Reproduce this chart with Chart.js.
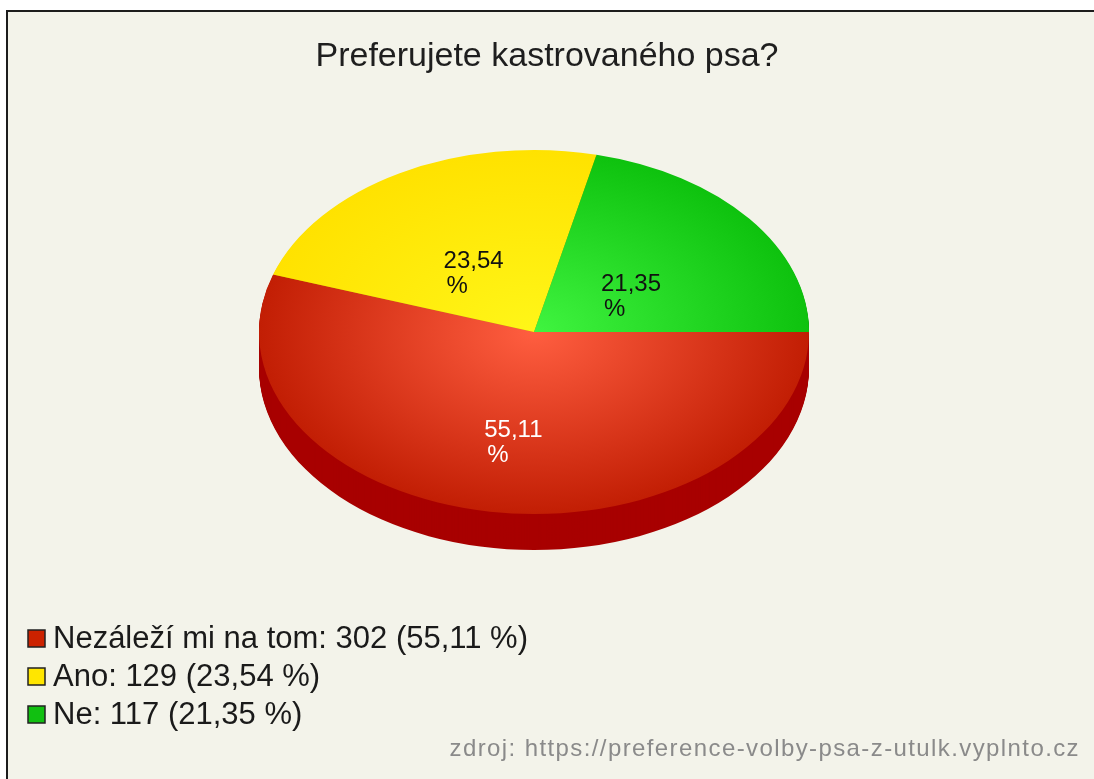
<!DOCTYPE html>
<html><head><meta charset="utf-8">
<script src="https://cdn.jsdelivr.net/npm/chart.js@4.4.1/dist/chart.umd.min.js"></script>
<style>html,body{margin:0;padding:0;background:#fff;overflow:hidden}#wrap{width:1094px;height:779px;position:relative}</style>
</head><body><div id="wrap"><canvas id="c" width="1094" height="779"></canvas></div>
<script>
// ---- data ----
const titleText = 'Preferujete kastrovaného psa?';
const categories = ['Nezáleží mi na tom', 'Ano', 'Ne'];
const counts = [302, 129, 117];
const sourceText = 'zdroj: https://preference-volby-psa-z-utulk.vyplnto.cz';

// ---- styles ----
const lightColors = ['#ff5e40', '#fff618', '#40f440'];
const darkColors = ['#c21e04', '#ffe200', '#0ec20e'];
const sideColors = ['#a80000', '#b39a00', '#088a08'];
const legendColors = ['#cc2200', '#ffe600', '#11c011'];
const labelColors = ['#ffffff', '#111111', '#111111'];
const FONT = "'Liberation Sans', Arial, sans-serif";

const W = 1094, H = 779;
const CX = 534, CY = 332, R = 275, RY = 182, K = RY / R, DEPTH = 36;

const total = counts.reduce((a, b) => a + b, 0);
const pctText = v => (v / total * 100).toFixed(2).replace('.', ',');

function gradFor(c) {
  const i = c.dataIndex;
  const chart = c.chart, ca = chart.chartArea;
  if (!ca || c.type !== 'data') return lightColors[i];
  const x = (ca.left + ca.right) / 2, y = (ca.top + ca.bottom) / 2;
  const g = chart.ctx.createRadialGradient(x, y, 0, x, y, R);
  g.addColorStop(0, lightColors[i]);
  g.addColorStop(1, darkColors[i]);
  return g;
}

const pie3d = {
  id: 'pie3d',
  beforeDraw(chart) {
    const ctx = chart.ctx;
    ctx.save();
    ctx.fillStyle = '#ffffff';
    ctx.fillRect(0, 0, W, H);
    ctx.fillStyle = '#f3f3ea';
    ctx.fillRect(7, 10, W - 7, H - 10);
    ctx.fillStyle = '#1c1c1c';
    ctx.fillRect(6, 10, 2, H - 10);
    ctx.fillRect(6, 10, W - 6, 2);
    ctx.restore();
  },
  beforeDatasetsDraw(chart) {
    const ctx = chart.ctx;
    const meta = chart.getDatasetMeta(0);
    const els = meta.data.map((el, i) => [el, i]).reverse();
    els.forEach(([el, i]) => {
      for (let d = DEPTH; d >= 1; d--) {
        ctx.save();
        ctx.translate(CX, CY + d);
        ctx.scale(1, K);
        ctx.beginPath();
        ctx.moveTo(0, 0);
        ctx.arc(0, 0, el.outerRadius, el.startAngle, el.endAngle);
        ctx.closePath();
        ctx.fillStyle = sideColors[i];
        ctx.fill();
        ctx.restore();
      }
    });
    const a0 = meta.data[0];
    ctx.save();
    ctx.translate(CX, CY);
    ctx.scale(1, K);
    ctx.translate(-a0.x, -a0.y);
  },
  afterDatasetsDraw(chart) {
    const ctx = chart.ctx;
    ctx.restore();
    const meta = chart.getDatasetMeta(0);
    ctx.save();
    ctx.font = '24px ' + FONT;
    ctx.textBaseline = 'middle';
    ctx.textAlign = 'left';
    meta.data.forEach((el, i) => {
      const mid = (el.startAngle + el.endAngle) / 2;
      const x = CX + 0.45 * R * Math.cos(mid);
      const y = CY + 0.5 * RY * Math.sin(mid) + 21;
      const t1 = pctText(counts[i]);
      const left = x - 30;
      ctx.fillStyle = labelColors[i];
      ctx.fillText(t1, left, y - 12.5);
      ctx.fillText('%', left + 3, y + 12.5);
    });
    ctx.restore();
  },
  afterDraw(chart) {
    const ctx = chart.ctx;
    ctx.save();
    ctx.textBaseline = 'middle';
    ctx.textAlign = 'left';
    ctx.font = '31px ' + FONT;
    categories.forEach((cat, i) => {
      const y = 638 + i * 38;
      ctx.fillStyle = legendColors[i];
      ctx.fillRect(28, y - 8, 17, 17);
      ctx.strokeStyle = '#222';
      ctx.lineWidth = 1.5;
      ctx.strokeRect(28, y - 8, 17, 17);
      ctx.fillStyle = '#1a1a1a';
      ctx.fillText(cat + ': ' + counts[i] + ' (' + pctText(counts[i]) + ' %)', 53, y + 1);
    });
    ctx.font = '24px ' + FONT;
    ctx.textAlign = 'right';
    ctx.fillStyle = '#8a8a8a';
    try { ctx.letterSpacing = '1.4px'; } catch (e) {}
    ctx.fillText(sourceText, 1080, 749);
    ctx.restore();
  }
};

new Chart(document.getElementById('c'), {
  type: 'pie',
  data: {
    labels: categories,
    datasets: [{
      data: counts,
      backgroundColor: gradFor,
      borderWidth: 0,
      radius: R,
      clip: false
    }]
  },
  options: {
    responsive: false,
    animation: false,
    events: [],
    rotation: 90,
    layout: { padding: 0 },
    plugins: {
      legend: { display: false },
      tooltip: { enabled: false },
      title: {
        display: true,
        text: titleText,
        color: '#1e1e1e',
        font: { family: FONT, size: 34, weight: 'normal' },
        padding: { top: 36, bottom: 10 }
      }
    }
  },
  plugins: [pie3d]
});
</script>
</body></html>
